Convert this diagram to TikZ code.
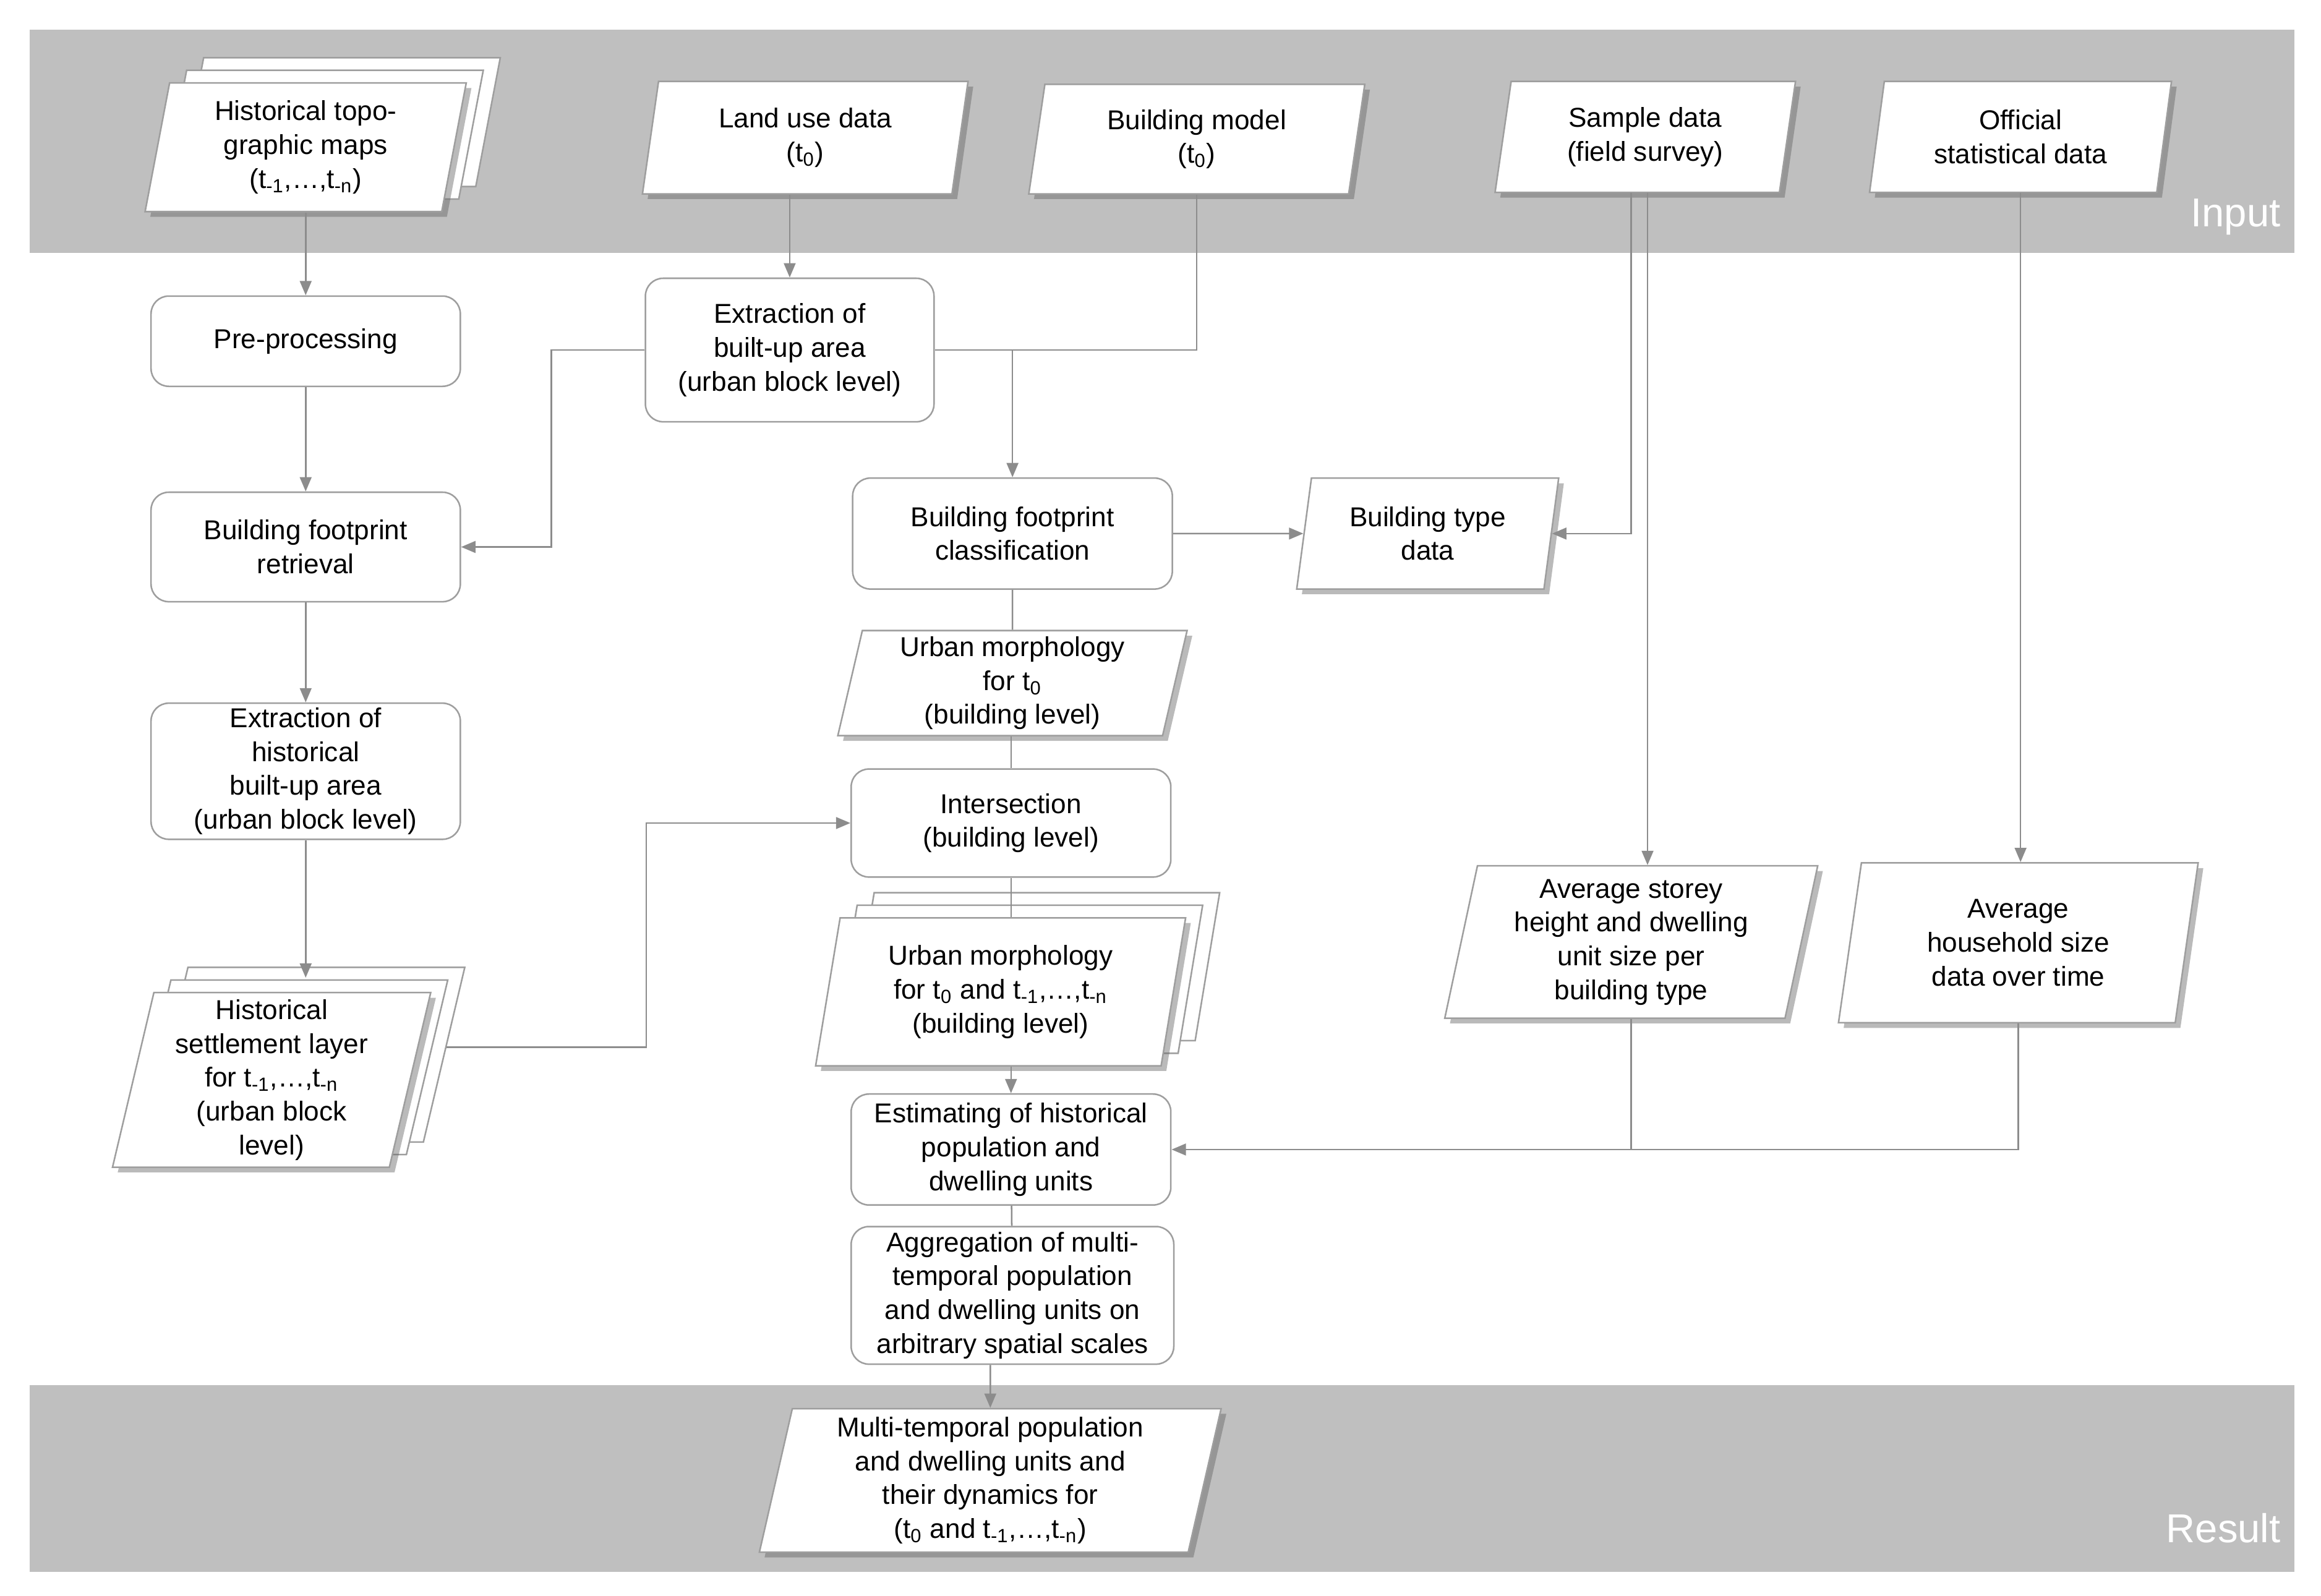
\documentclass[tikz,border=0pt]{standalone}
\usepackage{fontspec}
\setmainfont{Liberation Sans}
\usetikzlibrary{positioning}
\usetikzlibrary{shapes.geometric, shadows}
\usetikzlibrary{arrows.meta}

\definecolor{bandgray}{RGB}{191,191,191}
\definecolor{linegray}{RGB}{140,140,140}
\definecolor{boxgray}{RGB}{158,158,158}

\tikzset{
	process/.style = {rectangle, rounded corners=0.24cm, draw=boxgray, fill=white,
		line width=0.6pt, align=center, inner sep=1pt,
		font=\fontsize{10.5}{13}\selectfont},
	datanode/.style = {trapezium, trapezium left angle=76, trapezium right angle=104,
		trapezium stretches body, draw=boxgray, fill=white, line width=0.6pt,
		align=center, inner sep=1pt, font=\fontsize{10.5}{13}\selectfont,
		drop shadow={shadow xshift=0.07cm, shadow yshift=-0.07cm, fill=black!60, opacity=0.45}},
	stack/.style = {
		copy shadow={shadow xshift=0.46cm, shadow yshift=0.34cm, draw=boxgray, fill=white},
		copy shadow={shadow xshift=0.23cm, shadow yshift=0.17cm, draw=boxgray, fill=white},
		datanode},
	arrow/.style = {draw=linegray, line width=0.6pt, -{Triangle[width=4.5pt,length=5.5pt]}},
	link/.style = {draw=linegray, line width=0.6pt},
	bandlabel/.style = {text=white, font=\fontsize{15.5}{18}\selectfont, inner sep=0pt}
}

\begin{document}
\begin{tikzpicture}[x=0.02cm, y=-0.02cm]
			\useasboundingbox (0,0) rectangle (1568,1078);
			\fill[bandgray] (20,20) rectangle (1550,171);
			\fill[bandgray] (20,936) rectangle (1550,1062);
			\node (inputlabel) [bandlabel, anchor=base east] at (1541,153) {Input};
			\node (resultlabel) [bandlabel, anchor=base east] at (1541,1042) {Result};

			\node (topo) [stack, minimum width=4.34cm, minimum height=1.74cm] at (206.5,99.5)
				{Historical topo-\\graphic maps\\(t\textsubscript{-1},\ldots,t\textsubscript{-n})};
			\node (landuse) [datanode, minimum width=4.4cm, minimum height=1.52cm] at (544,93)
				{Land use data\\(t\textsubscript{0})};
			\node (bmodel) [datanode, minimum width=4.54cm, minimum height=1.48cm] at (808.5,94)
				{Building model\\(t\textsubscript{0})};
			\node (sample) [datanode, minimum width=4.06cm, minimum height=1.5cm] at (1111.5,92.5)
				{Sample data\\(field survey)};
			\node (official) [datanode, minimum width=4.08cm, minimum height=1.5cm] at (1365,92.5)
				{Official\\statistical data};

			\node (prep) [process, below=1.12cm of topo, minimum width=4.18cm, minimum height=1.22cm]
				{Pre-processing};
			\node (retrieval) [process, below=1.41cm of prep, minimum width=4.18cm, minimum height=1.48cm]
				{Building footprint\\retrieval};
			\node (histextract) [process, below=1.35cm of retrieval, minimum width=4.18cm, minimum height=1.84cm]
				{Extraction of\\historical\\built-up area\\(urban block level)};
			\node (histsettle) [stack, below=2.05cm of histextract, xshift=-0.46cm,
				minimum width=4.3cm, minimum height=2.36cm]
				{Historical\\settlement layer\\for t\textsubscript{-1},\ldots,t\textsubscript{-n}\\(urban block\\level)};

			\node (extract) [process, minimum width=3.9cm, minimum height=1.94cm] at (533.5,236.5)
				{Extraction of\\built-up area\\(urban block level)};
			\node (classif) [process, minimum width=4.32cm, minimum height=1.5cm] at (684,360.5)
				{Building footprint\\classification};
			\node (btype) [datanode, minimum width=3.54cm, minimum height=1.5cm] at (964.5,360.5)
				{Building type\\data};
			\node (morph0) [datanode, below=0.54cm of classif, minimum width=4.72cm, minimum height=1.42cm]
				{Urban morphology\\for t\textsubscript{0}\\(building level)};
			\node (intersect) [process, below=0.43cm of morph0, xshift=-0.02cm,
				minimum width=4.32cm, minimum height=1.46cm]
				{Intersection\\(building level)};
			\node (morphn) [stack, below=0.53cm of intersect, xshift=-0.14cm,
				minimum width=5cm, minimum height=2cm]
				{Urban morphology\\for t\textsubscript{0} and t\textsubscript{-1},\ldots,t\textsubscript{-n}\\(building level)};
			\node (estimate) [process, below=0.36cm of morphn, xshift=0.14cm,
				minimum width=4.32cm, minimum height=1.5cm]
				{Estimating of historical\\population and\\dwelling units};
			\node (aggreg) [process, below=0.27cm of estimate, xshift=0.02cm,
				minimum width=4.36cm, minimum height=1.86cm]
				{Aggregation of multi-\\temporal population\\and dwelling units on\\arbitrary spatial scales};
			\node (result) [datanode, below=0.58cm of aggreg, xshift=-0.3cm,
				minimum width=6.24cm, minimum height=1.94cm]
				{Multi-temporal population\\and dwelling units and\\their dynamics for\\(t\textsubscript{0} and t\textsubscript{-1},\ldots,t\textsubscript{-n})};

			\node (storey) [datanode, minimum width=5.04cm, minimum height=2.06cm] at (1102,636.5)
				{Average storey\\height and dwelling\\unit size per\\building type};
			\node (hhsize) [datanode, minimum width=4.86cm, minimum height=2.16cm] at (1363.5,637)
				{Average\\household size\\data over time};

			\draw[arrow] (prep.north |- topo.south) -- (prep);
			\draw[arrow] (prep) -- (retrieval);
			\draw[arrow] (retrieval) -- (histextract);
			\draw[arrow] (histextract) -- ([yshift=0.19cm]histextract.south |- histsettle.north);
			\draw[arrow] (extract.north |- landuse.south) -- (extract);
			\draw[arrow] (extract.west) -- ++(-63,0) |- (retrieval.east);
			\draw[link] (bmodel.south) |- (extract.east);
			\draw[arrow] (classif.north |- extract.east) -- (classif);
			\draw[arrow] (classif) -- (btype);
			\draw[arrow] ([xshift=-0.19cm]sample.south) |- (btype.east);
			\draw[arrow] ([xshift=0.03cm]sample.south) -- ([xshift=0.03cm]sample.south |- storey.north);
			\draw[arrow] (official.south) -- (official.south |- hhsize.north);
			\draw[arrow] (storey.south) |- (estimate.east);
			\draw[link] (hhsize.south) |- (storey.south |- estimate.east);
			\draw[link] (classif) -- (morph0);
			\draw[link] (morph0.south -| intersect.north) -- (intersect);
			\draw[link] (intersect.south) -- (intersect.south |- morphn.north);
			\draw[arrow] (estimate.north |- morphn.south) -- (estimate);
			\draw[link] (estimate) -- (aggreg);
			\draw[arrow] (result.north |- aggreg.south) -- (result);
			\draw[arrow] ([xshift=0.48cm,yshift=0.44cm]histsettle.east) -- ++(135,0) |- (intersect.west);
		\end{tikzpicture}
\end{document}
